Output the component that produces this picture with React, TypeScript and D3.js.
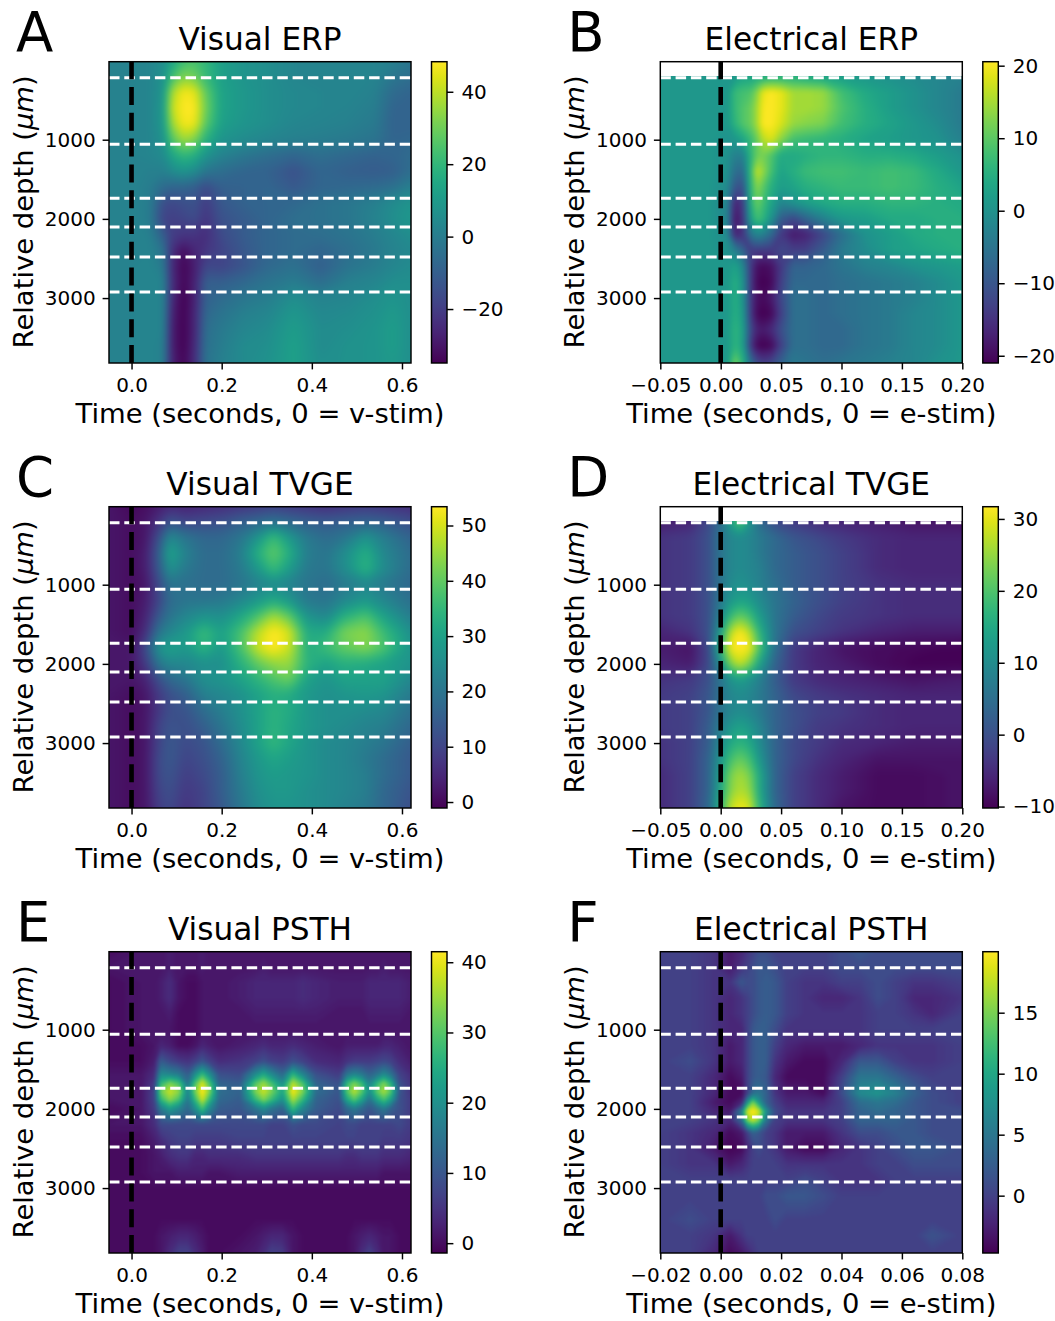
import React, { useEffect, useRef } from "react";
import * as d3 from "d3";

const FONT = "DejaVu Sans";
const tickFont = 20;
const labelFont = 27.4;
const titleFont = 31.2;
const letterFont = 54.5;

// layer boundaries drawn as white dashed lines (um)
const boundaries = [217, 1058, 1740, 2102, 2481, 2923];
const depthTicks = [1000, 2000, 3000];
const depths = [0, 200, 400, 600, 800, 1000, 1200, 1400, 1600, 1800, 2000, 2200, 2400, 2600, 2800, 3000, 3200, 3400, 3600, 3820];
const cutDepths = depths.slice(1);
const psthDepths = [0, 200, 400, 600, 800, 1000, 1200, 1400, 1560, 1680, 1780, 1880, 2000, 2200, 2400, 2600, 2800, 3000, 3200, 3400, 3600, 3820];
const ePsthDepths = [0, 200, 400, 600, 800, 1000, 1200, 1400, 1600, 1800, 1920, 2030, 2140, 2300, 2500, 2700, 2900, 3100, 3400, 3600, 3820];

const visualTicks = [0, 0.2, 0.4, 0.6];
const electricalTicks = [-0.05, 0, 0.05, 0.1, 0.15, 0.2];
const ePsthTicks = [-0.02, 0, 0.02, 0.04, 0.06, 0.08];

const vErpTimes = [-0.05, 0, 0.04, 0.07, 0.09, 0.115, 0.14, 0.165, 0.2, 0.25, 0.3, 0.36, 0.42, 0.48, 0.54, 0.58, 0.62];
const vErpValues = [
  [2, 2, 3, 6, 14, 22, 24, 20, 12, 8, 6, 3, 3, 3, 2, 1, -2],
  [2, 2, 3, 7, 22, 32, 30, 21, 12, 8, 6, 3, 3, 3, 2, -2, -5],
  [2, 2, 3, 8, 37, 47, 45, 28, 13, 9, 6, 4, 3, 3, 1, -6, -8],
  [2, 2, 3, 9, 41, 48, 48, 30, 13, 9, 6, 4, 3, 2, 0, -8, -9],
  [2, 2, 3, 9, 36, 47, 46, 27, 12, 8, 6, 3, 2, 1, -1, -9, -9],
  [2, 2, 3, 7, 26, 36, 32, 18, 8, 5, 3, 1, 0, -1, -3, -8, -7],
  [2, 2, 3, 5, 14, 20, 17, 8, 2, -2, -5, -8, -5, -7, -9, -8, -6],
  [2, 2, 1, 1, 5, 8, 5, -2, -5, -8, -9, -14, -8, -10, -11, -10, -5],
  [2, 2, 0, -6, -8, -8, -10, -16, -10, -9, -8, -12, -8, -7, -6, -4, 1],
  [2, 2, 0, -15, -17, -15, -14, -20, -12, -9, -8, -7, -4, -2, 1, 5, 8],
  [2, 2, 0, -18, -19, -18, -16, -22, -14, -11, -8, -5, -4, -2, 2, 6, 9],
  [2, 2, 1, -10, -20, -22, -22, -24, -16, -11, -8, -6, -5, -3, 0, 3, 6],
  [2, 2, 2, -3, -24, -32, -26, -22, -18, -12, -8, -6, -8, -5, -1, 2, 4],
  [2, 2, 3, -1, -25, -34, -28, -17, -18, -13, -7, -4, -10, -3, 0, 3, 5],
  [2, 2, 3, 2, -24, -34, -27, -10, -10, -7, -3, 0, -5, 1, 3, 6, 6],
  [2, 2, 3, 2, -25, -35, -27, -9, -6, -2, 0, 6, 2, 3, 6, 8, 6],
  [2, 2, 3, 2, -27, -35, -26, -7, -3, 1, 3, 9, 4, 5, 7, 10, 6],
  [2, 2, 3, 2, -28, -35, -26, -5, -1, 3, 5, 11, 5, 6, 8, 11, 6],
  [2, 2, 3, 1, -28, -35, -25, -4, 0, 5, 6, 12, 5, 7, 8, 11, 6],
  [2, 2, 3, 1, -27, -34, -24, -3, 1, 5, 7, 12, 6, 7, 8, 10, 6],
];

const eErpTimes = [-0.05, -0.01, 0.005, 0.012, 0.018, 0.025, 0.03, 0.035, 0.042, 0.05, 0.06, 0.07, 0.085, 0.1, 0.12, 0.14, 0.16, 0.18, 0.2];
const eErpValues = [
  [1, 1, 1, 1, 3, 3, 4, 4, 5, 5, 5, 4, 3, 2, 1, 0, -1, -2, -3],
  [1, 1, 1, 7, 8, 9, 13, 19, 20.5, 19, 15, 15, 14, 8, 4, 2, 0, -2, -4],
  [1, 1, 1, 7, 9, 11, 15, 20, 20.5, 19, 15, 15, 14, 9, 5, 2, 0, -2, -4],
  [1, 1, 1, 6, 9, 11, 15, 20.5, 20.5, 18, 14, 13, 12, 8, 5, 3, 1, -1, -4],
  [1, 1, 0, 1, 3, 7, 11, 16, 18, 13, 8, 7, 6, 5, 3, 2, 1, 0, -3],
  [1, 1, 0, -3, -3, 6, 11, 12, 9, 4, 4, 5, 6, 6, 5, 5, 4, 2, 0],
  [1, 1, 0, -6, -7, 7, 17, 14, 8, 3, 5, 7, 8, 8, 7, 8, 7, 4, 1],
  [1, 1, -1, -10, -11, 6, 13, 10, 5, 2, 3, 5, 6, 7, 7, 8, 7, 5, 3],
  [1, 1, -2, -17, -14, 5, 11, 8, 3, -2, 0, 2, 4, 5, 5, 6, 6, 5, 4],
  [1, 1, -2, -19, -15, 2, 8, 6, 0, -9, -12, -8, -3, 1, 2, 4, 4, 5, 5],
  [1, 1, -1, -17, -15, -5, -2, -3, -7, -14, -18, -17, -12, -6, 0, 2, 4, 5, 5],
  [1, 1, 0, -3, -7, -14, -14, -14, -14, -12, -13, -13, -9, -4, -1, 2, 3, 4, 5],
  [1, 1, 1, 3, -1, -14, -19, -20, -19, -14, -8, -8, -7, -5, -3, -2, 0, 1, 2],
  [1, 1, 1, 5, 1, -14, -20, -21, -20, -13, -7, -7, -7, -6, -5, -4, -3, -1, 1],
  [1, 1, 1, 5, 1, -14, -19, -20, -18, -12, -6, -6, -7, -6, -5, -4, -3, -1, 1],
  [1, 1, 1, 5, 2, -14, -20, -21, -20, -13, -6, -6, -7, -6, -5, -4, -2, -1, 1],
  [1, 1, 1, 6, 3, -12, -17, -18, -16, -11, -6, -6, -7, -7, -5, -4, -2, -1, 1],
  [1, 1, 1, 6, 3, -14, -20, -21, -20, -13, -6, -6, -7, -7, -5, -4, -2, -1, 1],
  [1, 1, 1, 12, 6, -6, -11, -13, -12, -8, -4, -5, -6, -5, -4, -3, -2, 0, 1],
];

const vTvgeTimes = [-0.05, 0, 0.03, 0.06, 0.085, 0.12, 0.16, 0.2, 0.24, 0.28, 0.315, 0.35, 0.39, 0.43, 0.47, 0.52, 0.56, 0.62];
const vTvgeValues = [
  [2, 0, 1, 3, 5, 4, 5, 6, 7, 8, 9, 8, 7, 6, 7, 8, 7, 6],
  [2, 1, 2, 7, 13, 10, 11, 12, 15, 17, 19, 17, 15, 14, 15, 16, 15, 12],
  [2, 1, 2, 12, 25, 20, 17, 17, 20, 27, 36, 28, 21, 18, 20, 27, 22, 16],
  [2, 1, 3, 15, 31, 23, 18, 18, 22, 33, 40, 33, 22, 20, 25, 33, 24, 18],
  [2, 1, 3, 14, 27, 21, 18, 18, 21, 28, 36, 29, 21, 20, 25, 34, 25, 18],
  [2, 1, 2, 11, 20, 19, 18, 18, 20, 23, 25, 23, 20, 18, 21, 24, 21, 17],
  [2, 1, 3, 10, 18, 20, 20, 21, 24, 28, 32, 28, 21, 20, 24, 28, 24, 19],
  [2, 1, 4, 14, 20, 24, 27, 26, 31, 38, 46, 40, 27, 24, 33, 38, 30, 22],
  [2, 1, 6, 20, 24, 28, 36, 30, 37, 48, 54, 50, 32, 32, 42, 44, 36, 26],
  [2, 2, 11, 27, 30, 28, 34, 28, 37, 49, 54, 49, 33, 36, 40, 43, 38, 27],
  [2, 2, 8, 20, 24, 24, 26, 26, 33, 40, 44, 45, 34, 30, 33, 32, 30, 27],
  [2, 2, 4, 12, 17, 20, 26, 27, 30, 34, 38, 41, 30, 27, 30, 30, 30, 24],
  [2, 1, 2, 8, 12, 15, 22, 24, 26, 30, 33, 32, 28, 26, 27, 28, 27, 21],
  [2, 1, 2, 8, 12, 13, 18, 22, 26, 30, 34, 32, 28, 26, 26, 25, 24, 19],
  [2, 1, 2, 10, 13, 12, 15, 20, 25, 30, 34, 31, 28, 26, 25, 23, 22, 17],
  [2, 1, 2, 10, 14, 11, 13, 18, 24, 30, 35, 31, 27, 25, 24, 22, 20, 15],
  [2, 1, 2, 11, 14, 10, 12, 16, 23, 28, 31, 29, 27, 25, 24, 21, 18, 14],
  [2, 1, 2, 11, 13, 9, 11, 15, 22, 27, 29, 28, 27, 25, 24, 22, 18, 14],
  [2, 1, 2, 10, 12, 8, 10, 15, 21, 26, 28, 28, 26, 25, 24, 22, 17, 13],
  [2, 1, 2, 9, 11, 7, 10, 14, 20, 25, 27, 27, 26, 25, 23, 21, 17, 12],
];

const eTvgeTimes = [-0.05, -0.025, -0.01, 0, 0.008, 0.016, 0.024, 0.032, 0.045, 0.06, 0.08, 0.1, 0.13, 0.16, 0.2];
const eTvgeValues = [
  [-7, -6, -1, 5, 14, 22, 12, 4, -1, -3, -5, -6, -7, -8, -8],
  [-4, -3, 0, 6, 9, 10, 9, 7, 4, 1, -1, -3, -5, -6, -6],
  [-4, -3, 0, 6, 9, 10, 9, 7, 4, 2, 0, -2, -5, -6, -6],
  [-4, -3, 0, 6, 9, 10, 9, 8, 4, 2, 0, -2, -5, -6, -6],
  [-4, -3, 0, 6, 10, 11, 10, 8, 5, 2, 0, -2, -4, -5, -5],
  [-4, -3, 0, 7, 12, 14, 13, 10, 6, 3, 0, -2, -4, -5, -5],
  [-4, -3, 0, 9, 18, 22, 19, 13, 6, 2, -1, -3, -4, -5, -5],
  [-6, -4, 0, 13, 27, 32, 27, 17, 6, 0, -2, -4, -6, -7, -7],
  [-7, -8, -1, 17, 31, 32, 31, 20, 5, -3, -6, -8, -9, -9.5, -10],
  [-6, -7, -1, 11, 23, 28, 23, 14, 3, -3, -6, -7, -9, -10, -10],
  [-4, -3, 0, 6, 11, 13, 11, 8, 2, -3, -5, -6, -7, -8, -7],
  [-3, -2, 1, 6, 9, 10, 9, 7, 3, -1, -3, -4, -5, -6, -6],
  [-3, -2, 1, 6, 9, 10, 9, 7, 3, 0, -2, -3, -5, -6, -6],
  [-3, -2, 2, 8, 12, 14, 12, 9, 3, 0, -3, -4, -5, -6, -6],
  [-4, -2, 2, 10, 15, 17, 15, 10, 3, -1, -3, -5, -6, -7, -7],
  [-4, -2, 3, 12, 19, 22, 19, 12, 3, -1, -4, -6, -8, -8, -8],
  [-5, -2, 3, 14, 23, 26, 23, 15, 3, -2, -5, -7, -9, -9, -8],
  [-5, -2, 3, 15, 24, 27, 25, 15, 3, -2, -5, -7, -9, -9, -8],
  [-5, -2, 4, 17, 28, 31, 29, 17, 4, -2, -5, -8, -9, -9, -8],
];

const vPsthTimes = [-0.05, 0.02, 0.05, 0.065, 0.085, 0.105, 0.125, 0.142, 0.157, 0.172, 0.195, 0.24, 0.275, 0.293, 0.31, 0.335, 0.358, 0.38, 0.41, 0.46, 0.478, 0.494, 0.51, 0.528, 0.545, 0.56, 0.575, 0.595, 0.62];
const vPsthValues = [
  [0, 1, 1, 1, 2, 1, 1, 1, 2, 1, 1, 1, 1, 1, 1, 1, 1, 1, 1, 1, 1, 1, 1, 1, 1, 1, 1, 1, 1],
  [1, 1, 1, 1, 2, 1, 1, 1, 2, 1, 1, 1, 1, 2, 1, 1, 1, 1, 1, 1, 1, 1, 1, 1, 1, 2, 1, 1, 1],
  [0, 1, 1, 2, 4, 1, 0, 0, 1, 1, 1, 2, 3, 3, 3, 3, 3, 4, 3, 2, 2, 2, 2, 3, 3, 3, 3, 3, 2],
  [0, 1, 1, 2, 4, 1, 0, 0, 1, 1, 1, 2, 3, 3, 3, 3, 3, 4, 3, 2, 2, 2, 2, 3, 3, 3, 3, 3, 2],
  [0, 1, 1, 1, 2, 0, 0, 0, 1, 1, 1, 1, 2, 2, 2, 2, 2, 2, 2, 1, 1, 1, 1, 2, 2, 2, 2, 2, 1],
  [0, 1, 1, 1, 1, 0, 0, 0, 1, 1, 1, 1, 1, 1, 1, 1, 1, 1, 1, 1, 1, 1, 1, 1, 1, 1, 1, 1, 1],
  [0, 0, 1, 3, 2, 0, 0, 1, 3, 2, 1, 2, 3, 4, 3, 3, 4, 3, 2, 1, 2, 2, 2, 2, 2, 3, 3, 2, 1],
  [0, 0, 2, 11, 8, 6, 5, 7, 10, 7, 4, 5, 7, 9, 7, 6, 9, 7, 4, 3, 5, 6, 6, 6, 7, 8, 7, 4, 2],
  [1, 1, 4, 19, 18, 16, 11, 20, 27, 20, 9, 8, 19, 24, 19, 13, 26, 18, 9, 6, 15, 18, 16, 12, 15, 19, 15, 7, 4],
  [1, 1, 6, 27, 33, 29, 15, 30, 39, 30, 12, 11, 30, 35, 29, 20, 37, 29, 12, 9, 27, 33, 28, 18, 27, 33, 26, 9, 5],
  [1, 1, 7, 32, 38, 34, 18, 33, 41.5, 34, 14, 12, 33, 38, 33, 24, 41, 33, 14, 10, 30, 37, 31, 20, 31, 36, 30, 10, 5],
  [1, 1, 7, 27, 34, 29, 16, 28, 38, 28, 13, 11, 27, 33, 28, 20, 36, 27, 12, 9, 24, 30, 24, 15, 24, 29, 23, 9, 6],
  [0, 1, 6, 16, 22, 18, 13, 20, 28, 19, 11, 10, 15, 19, 15, 12, 27, 18, 11, 8, 13, 16, 13, 10, 13, 16, 12, 9, 6],
  [1, 1, 4, 8, 8, 8, 8, 8, 8, 8, 8, 8, 8, 8, 7, 7, 9, 8, 8, 7, 8, 8, 7, 7, 7, 7, 7, 8, 6],
  [0, 0, 2, 4, 6, 7, 7, 6, 6, 6, 6, 7, 7, 7, 7, 7, 7, 7, 7, 7, 7, 7, 7, 7, 7, 6, 6, 6, 5],
  [0, 0, 1, 2, 4, 5, 5, 3, 3, 4, 4, 4, 5, 5, 5, 5, 5, 5, 5, 5, 4, 4, 5, 5, 5, 4, 4, 4, 3],
  [0, 0, 1, 1, 1, 2, 2, 2, 2, 1, 1, 2, 2, 2, 2, 2, 2, 2, 2, 2, 2, 2, 2, 2, 2, 1, 1, 1, 1],
  [0, 0, 0, 0, 0, 0, 0, 0, 0, 0, 0, 0, 0, 0, 0, 0, 0, 0, 0, 0, 0, 0, 0, 0, 0, 0, 0, 0, 0],
  [0, 0, 0, 0, 0, 0, 0, 0, 0, 0, 0, 0, 0, 0, 0, 0, 0, 0, 0, 0, 0, 0, 0, 0, 0, 0, 0, 0, 0],
  [0, 0, 0, 0, 0, 0, 0, 0, 0, 0, 0, 0, 0, 0, 0, 0, 0, 0, 0, 0, 0, 0, 0, 0, 0, 0, 0, 0, 0],
  [0, 0, 0, 1, 2, 3, 3, 2, 1, 0, 0, 0, 1, 2, 3, 3, 1, 0, 0, 0, 0, 1, 2, 3, 2, 1, 1, 0, 0],
  [0, 0, 0, 1, 4, 7, 7, 4, 2, 0, 0, 1, 2, 4, 7, 6, 1, 0, 0, 0, 0, 1, 4, 7, 4, 1, 1, 0, 0],
];

const ePsthTimes = [-0.02, -0.01, -0.002, 0.003, 0.007, 0.0088, 0.0107, 0.0126, 0.015, 0.018, 0.022, 0.028, 0.034, 0.04, 0.046, 0.052, 0.058, 0.064, 0.07, 0.08];
const ePsthValues = [
  [0, 0, -1, -3, -2, -1, 0, 1, 1, 0, 0, 0, 0, 1, 2, 1, 1, 1, 1, 1],
  [0, 0, -1, -3, -1, 0, 1, 2, 2, 1, 0, 0, 0, 1, 1, 1, 1, 1, 1, 1],
  [0, 0, -1, -1, 2, 1, 1, 2, 2.5, 2, 0, -1, -1, 0, 0, 1, 0, -1, -1, 0],
  [0, 0, -1, -2, -1, 0, 1, 2, 2.5, 2, 0, -1, -2, -2, -1, 1, 0, -2, -2, -1],
  [0, 0, -1, -2, -1, 0, 1, 2, 2.5, 2, 0, -1, -1, -1, -1, 0, 0, -1, -2, 0],
  [0, 0, -1, -2, -2, 0, 2, 2.5, 2.5, 1, -1, -1, -1, -1, -1, 0, 0, 0, 0, 0],
  [0, 0, -1, -3, -2, 0, 2, 2.5, 2.5, 0, -2, -3, -3, -3, -2, -1, -1, -1, -1, 0],
  [0, 1, -1, -3, -2, 0, 2, 2.5, 2.5, -1, -3, -4, -4, -2, 2, 2, 0, -1, -1, 0],
  [0, 0, -2, -4, -3, 0, 2, 2.5, 2, -2, -4, -4, -4, 0, 5, 5, 3, 1, 0, 0],
  [0, 0, -2, -4, -4, 0, 4, 5, 3, -1, -3, -3, -4, 1, 7, 8, 6, 3, 1, 0],
  [0, 0, -3, -4, -2, 8, 15, 9, 3, 0, -2, -2, -2, 0, 4, 5, 4, 2, 1, 0],
  [0, 0, -2, -3, 6, 18, 20, 18, 8, 1, -1, -1, -1, 0, 3, 4, 3, 2, 1, 1],
  [0, 0, -1, -2, 4, 15, 18, 15, 5, 0, -1, -1, -1, 0, 3, 3, 3, 2, 1, 1],
  [0, -1, -2, -4, -3, 0, 3, 2, 0, -1, -3, -3, -3, -1, 1, 1, 2, 2, 1, 1],
  [0, -1, -3, -4.5, -4, -2, 0, 1, 0, -1, -3, -4, -4, -2, -1, 0, 1, 2, 2, 1],
  [0, -1, -1, -3, -2, -1, 0, 0, 0, 0, -1, -1, -1, -1, -1, 0, 0, 1, 1, 1],
  [0, 0, 0, 0, 0, 0, 0, 0, 0, 0, 0, 1, 0, -1, -1, -1, 0, 0, 0, 0],
  [0, 0, 0, 0, 0, 0, 0, 0, 1, 1, 2, 2, 1, 0, 0, 0, 0, 0, 0, 0],
  [0, 1, 0, 0, 0, 0, 0, 0, 0, 1, 0, 0, 0, 0, 0, 0, 0, 0, 0, 0],
  [0, 0, -1, -3, -1, 0, 0, 0, 0, 0, 0, 0, 0, 0, 0, 0, 0, 0, 1.5, 0],
  [0, 0, -2, -4, -3, -2, -1, 0, 0, 0, 0, 0, 0, 0, 0, 0, 0, 0, 0, 0],
];

type PanelDef = {
  letter: string; title: string; xLabel: string; left: number; top: number;
  times: number[]; rows: number[]; values: number[][]; xDomain: [number, number];
  xTicks: number[]; xFormat: string; colorDomain: [number, number]; colorTicks: number[];
  clipDepth: number; blur: number;
};

const LEFT = [109, 660.3];
const TOP = [61.7, 506.7, 951.7];
const W = 302;
const H = 301.3;
const visualDomain: [number, number] = [-0.05, 0.62];
const electricalDomain: [number, number] = [-0.05, 0.2];

const panels: PanelDef[] = [
  { letter: "A", title: "Visual ERP", xLabel: "Time (seconds, 0 = v-stim)", left: LEFT[0], top: TOP[0], times: vErpTimes, rows: depths, values: vErpValues, xDomain: visualDomain, xTicks: visualTicks, xFormat: ".1f", colorDomain: [-34.9, 48.3], colorTicks: [-20, 0, 20, 40], clipDepth: 15, blur: 3.5 },
  { letter: "B", title: "Electrical ERP", xLabel: "Time (seconds, 0 = e-stim)", left: LEFT[1], top: TOP[0], times: eErpTimes, rows: cutDepths, values: eErpValues, xDomain: electricalDomain, xTicks: electricalTicks, xFormat: ".2f", colorDomain: [-21, 20.55], colorTicks: [-20, -10, 0, 10, 20], clipDepth: 195, blur: 2.5 },
  { letter: "C", title: "Visual TVGE", xLabel: "Time (seconds, 0 = v-stim)", left: LEFT[0], top: TOP[1], times: vTvgeTimes, rows: depths, values: vTvgeValues, xDomain: visualDomain, xTicks: visualTicks, xFormat: ".1f", colorDomain: [-1.08, 53.4], colorTicks: [0, 10, 20, 30, 40, 50], clipDepth: 15, blur: 4 },
  { letter: "D", title: "Electrical TVGE", xLabel: "Time (seconds, 0 = e-stim)", left: LEFT[1], top: TOP[1], times: eTvgeTimes, rows: cutDepths, values: eTvgeValues, xDomain: electricalDomain, xTicks: electricalTicks, xFormat: ".2f", colorDomain: [-10.2, 31.7], colorTicks: [-10, 0, 10, 20, 30], clipDepth: 195, blur: 3.5 },
  { letter: "E", title: "Visual PSTH", xLabel: "Time (seconds, 0 = v-stim)", left: LEFT[0], top: TOP[2], times: vPsthTimes, rows: psthDepths, values: vPsthValues, xDomain: visualDomain, xTicks: visualTicks, xFormat: ".1f", colorDomain: [-1.4, 41.5], colorTicks: [0, 10, 20, 30, 40], clipDepth: 15, blur: 1.8 },
  { letter: "F", title: "Electrical PSTH", xLabel: "Time (seconds, 0 = e-stim)", left: LEFT[1], top: TOP[2], times: ePsthTimes, rows: ePsthDepths, values: ePsthValues, xDomain: [-0.02, 0.08], xTicks: ePsthTicks, xFormat: ".2f", colorDomain: [-4.7, 20], colorTicks: [0, 5, 10, 15], clipDepth: 15, blur: 1.6 },
];

const depthScale = d3.scaleLinear().domain([15, 3820]).range([0, H]);
const viridisStops = d3.range(0, 1.001, 0.05);

function Panel({ p, id }: { p: PanelDef; id: number }) {
  const xRef = useRef<SVGGElement>(null);
  const yRef = useRef<SVGGElement>(null);
  const cRef = useRef<SVGGElement>(null);

  const x = d3.scaleLinear().domain(p.xDomain).range([0, W]);
  const c = d3.scaleLinear().domain(p.colorDomain).range([H, 0]);
  const color = d3.scaleSequential(d3.interpolateViridis).domain(p.colorDomain);

  // grid position -> pixels, samples may be unevenly spaced, outermost samples run past the frame
  const nx = p.times.length;
  const ny = p.rows.length;
  const gx = d3.scaleLinear()
    .domain([0, ...p.times.map((_, i) => i + 0.5), nx])
    .range([x(p.times[0]) - 14, ...p.times.map((t) => x(t)), x(p.times[nx - 1]) + 14]);
  const gy = d3.scaleLinear()
    .domain([0, ...p.rows.map((_, i) => i + 0.5), ny])
    .range([depthScale(p.rows[0]) - 14, ...p.rows.map((d) => depthScale(d)), depthScale(p.rows[ny - 1]) + 14]);

  const thresholds = d3.range(p.colorDomain[0], p.colorDomain[1], (p.colorDomain[1] - p.colorDomain[0]) / 90);
  const bands = d3.contours().size([nx, ny]).thresholds(thresholds)(p.values.flat());
  const path = d3.geoPath(d3.geoTransform({
    point(px: number, py: number) {
      (this as any).stream.point(gx(px), gy(py));
    },
  }));

  useEffect(() => {
    const style = (g: any) => {
      g.select(".domain").remove();
      g.selectAll("line").attr("stroke", "#000").attr("stroke-width", 1.46);
      g.selectAll("text").attr("font-family", FONT).attr("font-size", tickFont).attr("fill", "#000");
      g.attr("font-family", FONT).attr("font-size", tickFont);
    };
    d3.select(xRef.current).call(d3.axisBottom(x).tickValues(p.xTicks).tickFormat(d3.format(p.xFormat) as any).tickSize(6.4).tickPadding(8) as any).call(style);
    d3.select(yRef.current).call(d3.axisLeft(depthScale).tickValues(depthTicks).tickFormat(d3.format("d") as any).tickSize(6.4).tickPadding(7) as any).call(style);
    d3.select(cRef.current).call(d3.axisRight(c).tickValues(p.colorTicks).tickFormat(d3.format("d") as any).tickSize(6.4).tickPadding(8) as any).call(style);
  }, []);

  const clipTop = depthScale(p.clipDepth);
  const zero = x(0);

  return (
    <g transform={`translate(${p.left},${p.top})`}>
      <defs>
        <clipPath id={`clip${id}`}>
          <rect x={0} y={clipTop} width={W} height={H - clipTop} />
        </clipPath>
        <filter id={`blur${id}`} filterUnits="userSpaceOnUse" x={-40} y={-40} width={W + 80} height={H + 80} colorInterpolationFilters="sRGB">
          <feGaussianBlur stdDeviation={p.blur} />
        </filter>
        <linearGradient id={`bar${id}`} x1="0" y1="1" x2="0" y2="0">
          {viridisStops.map((s) => (
            <stop key={s} offset={s} stopColor={d3.interpolateViridis(s)} />
          ))}
        </linearGradient>
      </defs>

      <g clipPath={`url(#clip${id})`}>
        <g filter={`url(#blur${id})`}>
          <rect x={-30} y={-30} width={W + 60} height={H + 60} fill={color(p.colorDomain[0])} />
          {bands.map((b, i) => (
            <path key={i} d={path(b as any) || ""} fill={color(b.value + (thresholds[1] - thresholds[0]) / 2)} />
          ))}
        </g>
      </g>

      {boundaries.map((d) => (
        <line key={d} x1={0} x2={W} y1={depthScale(d)} y2={depthScale(d)} stroke="#fff" strokeWidth={2.9} strokeDasharray="10.5 4.8" />
      ))}
      <line x1={zero} x2={zero} y1={H} y2={0} stroke="#000" strokeWidth={4.6} strokeDasharray="18 7.8" />

      <rect x={0} y={0} width={W} height={H} fill="none" stroke="#000" strokeWidth={1.46} />
      <g ref={xRef} transform={`translate(0,${H})`} />
      <g ref={yRef} />

      <rect x={W + 20.5} y={0} width={15.5} height={H} fill={`url(#bar${id})`} stroke="#000" strokeWidth={1.46} />
      <g ref={cRef} transform={`translate(${W + 36},0)`} />

      <text x={W / 2} y={-11.7} textAnchor="middle" fontFamily={FONT} fontSize={titleFont}>{p.title}</text>
      <text x={W / 2} y={H + 60} textAnchor="middle" fontFamily={FONT} fontSize={labelFont}>{p.xLabel}</text>
      <text transform={`translate(-76,${H / 2 - 0.5}) rotate(-90)`} textAnchor="middle" fontFamily={FONT} fontSize={labelFont}>
        Relative depth (<tspan fontStyle="italic">μm</tspan>)
      </text>
      <text x={-93} y={-10.7} fontFamily={FONT} fontSize={letterFont}>{p.letter}</text>
    </g>
  );
}

export default function App() {
  return (
    <svg width={1055} height={1321} style={{ position: "absolute", left: 0, top: 0, background: "#fff" }}>
      {panels.map((p, i) => (
        <Panel key={p.letter} p={p} id={i} />
      ))}
    </svg>
  );
}
